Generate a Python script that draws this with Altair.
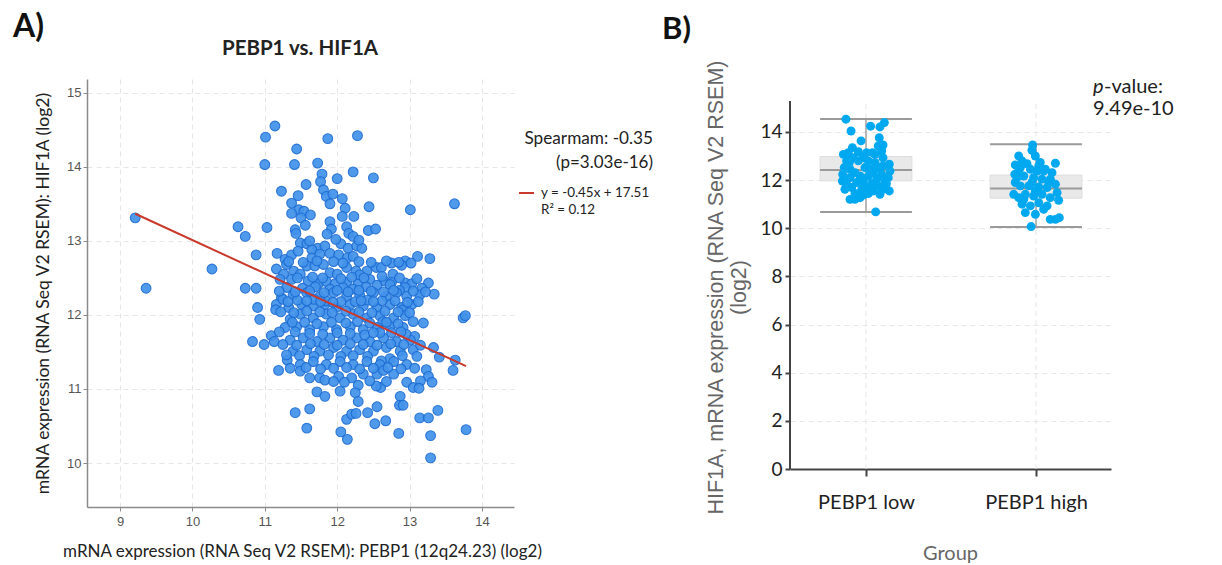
import altair as alt
import pandas as pd

# ---------------- Panel A: PEBP1 vs. HIF1A scatter ----------------
# (PEBP1 log2 RSEM, HIF1A log2 RSEM) per sample
samples_a = [
    (9.21, 13.31), (11.14, 14.55), (11.01, 14.40), (11.87, 14.38), (12.28, 14.42), (11.44, 14.24),
    (11.00, 14.03), (11.41, 14.03), (11.73, 14.05), (12.22, 13.93), (12.50, 13.85), (11.79, 13.90),
    (11.77, 13.80), (11.57, 13.76), (11.23, 13.67), (11.46, 13.61), (11.81, 13.69), (11.85, 13.60),
    (11.94, 13.63), (12.00, 13.84), (12.07, 13.57), (11.90, 13.50), (11.37, 13.51), (11.47, 13.42),
    (11.54, 13.40), (11.63, 13.35), (11.37, 13.37), (11.50, 13.31), (12.11, 13.44), (12.07, 13.33),
    (12.23, 13.33), (12.44, 13.46), (13.01, 13.42), (13.62, 13.50), (11.56, 13.21), (10.63, 13.19),
    (10.73, 13.06), (11.03, 13.18), (11.42, 13.15), (11.43, 13.10), (11.90, 13.26), (11.92, 13.16),
    (11.86, 13.09), (12.13, 13.19), (12.16, 13.10), (12.22, 13.06), (12.43, 13.14), (12.53, 13.16),
    (10.27, 12.62), (10.88, 12.81), (11.17, 12.83), (11.49, 12.97), (11.58, 12.96), (11.73, 12.90),
    (11.83, 12.93), (12.05, 12.96), (12.15, 12.90), (12.27, 12.93), (12.34, 12.90), (11.28, 12.75),
    (11.37, 12.81), (11.46, 12.86), (11.65, 12.88), (11.65, 12.77), (11.76, 12.82), (11.90, 12.83),
    (12.02, 12.81), (12.14, 12.77), (12.22, 12.79), (11.16, 12.62), (11.26, 12.55), (11.40, 12.59),
    (11.49, 12.55), (11.58, 12.66), (11.69, 12.66), (11.81, 12.68), (11.90, 12.57), (12.00, 12.55),
    (12.13, 12.64), (12.26, 12.59), (12.41, 12.59), (12.54, 12.64), (12.45, 12.48), (11.21, 12.48),
    (11.37, 12.48), (11.60, 12.46), (11.74, 12.42), (11.85, 12.45), (11.97, 12.42), (12.13, 12.44),
    (12.29, 12.42), (10.73, 12.36), (10.88, 12.36), (9.36, 12.36), (13.11, 12.79), (13.28, 12.76),
    (12.94, 12.73), (12.89, 12.67), (12.75, 12.70), (12.61, 12.64), (12.77, 12.55), (12.65, 12.46),
    (12.94, 12.43), (13.03, 12.42), (13.26, 12.43), (13.17, 12.36), (12.31, 12.54), (11.30, 12.68),
    (12.75, 12.44), (12.94, 12.37),
    (11.30, 12.37), (11.52, 12.36), (11.70, 12.38), (11.90, 12.35), (12.08, 12.37), (12.22, 12.35),
    (12.40, 12.38), (12.55, 12.40), (12.73, 12.41), (12.86, 12.33), (11.23, 12.23), (11.39, 12.27),
    (11.58, 12.30), (11.76, 12.25), (11.95, 12.30), (12.13, 12.25), (12.31, 12.27), (12.50, 12.30),
    (12.68, 12.25), (12.82, 12.30), (12.96, 12.25), (13.14, 12.27), (13.34, 12.28), (11.16, 12.14),
    (11.33, 12.10), (11.51, 12.14), (11.67, 12.12), (11.83, 12.14), (11.99, 12.10), (12.18, 12.14),
    (12.36, 12.12), (12.55, 12.10), (12.73, 12.14), (12.89, 12.10), (13.03, 12.14), (11.15, 12.07),
    (11.25, 12.21), (10.90, 12.10), (11.45, 12.20), (11.85, 12.19), (12.05, 12.18), (12.42, 12.20),
    (12.62, 12.19), (11.68, 12.21), (12.91, 12.07),
    (10.93, 11.94), (11.35, 11.94), (11.49, 12.01), (11.67, 11.96), (11.85, 12.01), (12.04, 11.96),
    (12.22, 12.01), (12.41, 11.96), (12.59, 11.99), (12.78, 11.96), (12.94, 11.99), (13.74, 11.96),
    (13.77, 11.99), (12.63, 11.91), (11.28, 11.83), (11.44, 11.84), (11.62, 11.80), (11.81, 11.84),
    (11.99, 11.80), (12.18, 11.84), (12.36, 11.80), (12.55, 11.83), (12.73, 11.84), (12.91, 11.83),
    (13.19, 11.89), (12.84, 11.88), (13.07, 11.71), (11.55, 11.90), (11.92, 11.90), (12.28, 11.91),
    (12.12, 11.89), (11.72, 11.88), (11.09, 11.72), (11.13, 11.64), (10.99, 11.60), (10.83, 11.64),
    (11.35, 11.66), (11.53, 11.69), (11.72, 11.64), (11.90, 11.69), (12.08, 11.66), (12.27, 11.69),
    (12.45, 11.64), (12.64, 11.69), (12.82, 11.64), (13.01, 11.66), (12.95, 11.74), (12.59, 11.76),
    (11.20, 11.77), (11.62, 11.75), (11.80, 11.74), (12.00, 11.76), (12.18, 11.75), (12.38, 11.73),
    (12.75, 11.76),
    (11.39, 11.51), (11.58, 11.53), (11.76, 11.51), (11.95, 11.56), (12.13, 11.51), (12.31, 11.53),
    (12.50, 11.51), (12.68, 11.56), (12.87, 11.51), (13.05, 11.53), (13.33, 11.56), (13.41, 11.43),
    (11.48, 11.45), (11.68, 11.44), (11.88, 11.46), (12.05, 11.44), (12.22, 11.45), (12.42, 11.44),
    (12.73, 11.41), (12.61, 11.38), (11.31, 11.39), (11.49, 11.33), (11.67, 11.37), (11.85, 11.33),
    (12.04, 11.37), (12.22, 11.33), (12.41, 11.37), (12.59, 11.33), (12.78, 11.37), (12.96, 11.33),
    (13.07, 11.28), (13.63, 11.39), (13.60, 11.25), (13.23, 11.26), (11.19, 11.25), (11.49, 11.24),
    (11.62, 11.15), (11.76, 11.15), (12.02, 11.17), (12.20, 11.15), (12.36, 11.20), (12.55, 11.20),
    (12.78, 11.20), (12.64, 11.25), (13.26, 11.17), (13.31, 11.09), (12.96, 11.09), (13.05, 11.02),
    (13.15, 11.11), (11.83, 11.12), (12.29, 11.05), (13.13, 11.01), (12.60, 11.02), (12.54, 11.04),
    (11.42, 10.68), (11.62, 10.73), (11.58, 10.47), (11.72, 10.96), (11.83, 10.90), (12.04, 10.97),
    (12.25, 10.95), (12.29, 10.83), (12.13, 10.59), (12.20, 10.66), (12.26, 10.67), (12.05, 10.42),
    (12.14, 10.32), (12.42, 10.68), (12.52, 10.53), (12.55, 10.76), (13.78, 10.45), (13.29, 10.07),
    (13.29, 10.37), (13.39, 10.71), (13.14, 10.61), (13.26, 10.61), (12.85, 10.40), (12.67, 10.57),
    (12.87, 10.90), (12.86, 10.78), (12.91, 10.78),
    # densely packed core of the cloud
    (11.33, 12.72), (11.53, 12.71), (11.72, 12.73), (11.95, 12.72), (12.08, 12.70), (12.30, 12.72),
    (12.47, 12.71), (12.68, 12.73), (12.85, 12.71), (13.02, 12.70),
    (11.45, 12.50), (11.66, 12.51), (11.80, 12.50), (12.05, 12.49), (12.20, 12.51), (12.37, 12.50),
    (12.62, 12.52), (12.86, 12.50), (13.10, 12.49),
    (11.20, 12.32), (11.42, 12.31), (11.62, 12.32), (11.82, 12.30), (12.00, 12.33), (12.15, 12.31),
    (12.30, 12.33), (12.47, 12.32), (12.64, 12.31), (12.78, 12.33), (13.05, 12.32), (13.22, 12.31),
    (11.32, 12.18), (11.58, 12.19), (11.77, 12.18), (11.94, 12.17), (12.25, 12.18), (12.33, 12.19),
    (12.50, 12.18), (12.80, 12.19), (12.97, 12.17), (13.12, 12.18),
    (11.22, 12.04), (11.40, 12.03), (11.58, 12.05), (11.76, 12.04), (11.93, 12.03), (12.12, 12.05),
    (12.30, 12.04), (12.48, 12.03), (12.66, 12.05), (12.84, 12.04), (13.00, 12.03),
    (11.38, 11.90), (12.45, 11.89), (12.68, 11.90), (13.05, 11.91),
    (11.42, 11.77), (12.50, 11.76), (12.88, 11.77),
    (11.25, 11.60), (11.44, 11.59), (11.63, 11.61), (11.82, 11.60), (12.00, 11.59), (12.18, 11.61),
    (12.36, 11.60), (12.55, 11.59), (12.74, 11.61), (12.92, 11.60), (13.15, 11.59),
    (11.30, 11.46), (12.90, 11.45), (13.10, 11.44),
    (11.35, 11.28), (11.57, 11.29), (11.77, 11.27), (11.95, 11.28), (12.13, 11.29), (12.31, 11.27),
    (12.50, 11.28), (12.70, 11.29), (12.88, 11.27),
    (11.95, 11.10), (12.10, 11.09), (12.45, 11.11), (12.68, 11.10),
    (11.62, 13.00), (11.98, 13.02), (12.30, 13.01),
]

# Linear fit reported in the legend
fit_slope = -0.45
fit_intercept = 17.51

title_a = "PEBP1 vs. HIF1A"
x_title_a = "mRNA expression (RNA Seq V2 RSEM): PEBP1 (12q24.23) (log2)"
y_title_a = "mRNA expression (RNA Seq V2 RSEM): HIF1A (log2)"
spearman_lines = ["Spearmam: -0.35", "(p=3.03e-16)"]
fit_lines = ["y = -0.45x + 17.51", "R\u00b2 = 0.12"]
x_ticks_a = [9, 10, 11, 12, 13, 14]
y_ticks_a = [10, 11, 12, 13, 14, 15]

# ---------------- Panel B: HIF1A by PEBP1 group ----------------
groups = ["PEBP1 low", "PEBP1 high"]
# (HIF1A log2, horizontal jitter within the group)
low_points = [
    (14.53, -0.118), (14.04, -0.088), (14.24, 0.027), (14.21, 0.082), (14.39, 0.108), (13.63, -0.029),
    (13.76, 0.078), (13.42, 0.072), (13.35, -0.080), (13.14, -0.104), (13.14, 0.039), (13.07, -0.133),
    (12.93, 0.100), (12.66, 0.137), (12.38, 0.141), (12.10, 0.131), (11.85, 0.120), (11.55, 0.137),
    (11.62, 0.100), (11.41, 0.082), (11.20, -0.094), (11.20, -0.065), (11.27, -0.035), (11.62, -0.124),
    (11.96, -0.139), (12.24, -0.137), (12.52, -0.128), (12.80, -0.114), (10.68, 0.057), (12.93, -0.075),
    (12.80, -0.045), (12.93, -0.016), (12.80, 0.014), (12.52, -0.006), (12.45, 0.024), (12.45, -0.094),
    (12.31, -0.065), (12.17, -0.035), (12.10, -0.094), (11.90, -0.055), (11.96, -0.016), (12.17, 0.014),
    (12.31, 0.043), (12.52, 0.072), (12.59, 0.100), (12.24, 0.092), (12.04, 0.063), (11.85, 0.033),
    (11.69, 0.004), (11.62, -0.025), (11.69, -0.084), (11.44, -0.065), (11.38, -0.016), (11.44, 0.014),
    (11.55, 0.043), (11.76, 0.072), (11.96, 0.112), (11.83, -0.114), (12.73, -0.098), (12.73, 0.053),
    (13.07, 0.053), (13.14, 0.004), (13.18, -0.045), (13.21, 0.092), (13.46, 0.100),
]
high_points = [
    (13.46, -0.020), (13.24, -0.024), (12.70, 0.114), (12.80, -0.082), (12.63, -0.122), (12.68, -0.053),
    (12.73, 0.025), (12.45, 0.055), (12.31, 0.094), (12.38, 0.006), (12.45, -0.033), (12.38, -0.102),
    (12.24, -0.125), (12.17, -0.072), (12.10, -0.014), (12.04, 0.035), (12.04, 0.084), (11.83, 0.114),
    (11.90, -0.122), (11.76, -0.092), (11.76, -0.043), (11.72, 0.016), (11.69, 0.065), (11.48, 0.124),
    (11.41, -0.131), (11.27, -0.102), (11.41, -0.063), (11.34, -0.014), (11.41, 0.035), (11.27, 0.084),
    (11.16, 0.133), (11.00, -0.082), (10.93, -0.033), (11.06, 0.016), (10.93, 0.065), (10.65, -0.063),
    (10.58, -0.004), (10.37, 0.084), (10.37, 0.114), (10.44, 0.137), (10.07, -0.029), (13.00, -0.102),
    (13.00, -0.004), (12.10, -0.112), (12.38, 0.045), (11.55, -0.004), (12.52, -0.092), (12.59, 0.016),
    (11.90, 0.075), (11.20, -0.072), (10.79, 0.045), (11.90, -0.024),
]
box_q1 = [11.97, 11.25]
box_median = [12.42, 11.65]
box_q3 = [12.98, 12.21]
whisker_low = [10.68, 10.05]
whisker_high = [14.54, 13.49]
y_ticks_b = [0, 2, 4, 6, 8, 10, 12, 14]
y_title_b = ["HIF1A, mRNA expression (RNA Seq V2 RSEM)", "(log2)"]
x_title_b = "Group"
p_value = "9.49e-10"

# ---------------- styling ----------------
SANS = "Lato"
ARIAL = "Liberation Sans"
NARROW = "Liberation Sans Narrow, Liberation Sans"
GRID = dict(grid=True, gridDash=[5, 4], gridColor="#e6e6e6", gridWidth=1)
BOX_HALF = 0.27


def text_mark(text, x, y, size, **kw):
    style = dict(font=SANS, fontSize=size, color="#222222", align="left", baseline="middle")
    style.update(kw)
    return alt.Chart(pd.DataFrame({"t": [text]})).mark_text(x=x, y=y, **style).encode(text="t:N")


# ---------------- build panel A ----------------
df_a = pd.DataFrame(samples_a, columns=["pebp1", "hif1a"])
fit_x = [df_a["pebp1"].min(), df_a["pebp1"].max()]
df_fit = pd.DataFrame({"pebp1": fit_x})
df_fit["hif1a"] = fit_slope * df_fit["pebp1"] + fit_intercept

axis_xa = alt.Axis(
    values=x_ticks_a, title=x_title_a, **GRID,
    domainColor="#8a8a8a", domainWidth=1.5, tickColor="#8a8a8a", tickSize=4,
    labelFont=NARROW, labelFontSize=13, labelColor="#555555", labelPadding=4,
    titleFont=SANS, titleFontSize=17, titleFontWeight="normal", titleColor="#222222",
    titleX=215, titleY=44, titleBaseline="middle",
)
axis_ya = alt.Axis(
    values=y_ticks_a, title=y_title_a, **GRID,
    domainColor="#8a8a8a", domainWidth=1.5, tickColor="#8a8a8a", tickSize=4,
    labelFont=NARROW, labelFontSize=13, labelColor="#555555", labelPadding=2,
    titleFont=SANS, titleFontSize=17.5, titleFontWeight="normal", titleColor="#222222",
    titleAngle=270, titleAlign="center", titleBaseline="middle", titleX=-44, titleY=214,
)
scale_xa = alt.Scale(domain=[8.544, 14.442], nice=False, zero=False)
scale_ya = alt.Scale(domain=[9.406, 15.185], nice=False, zero=False)

points_a = alt.Chart(df_a).mark_circle(
    size=95, color="#4393ea", stroke="#1c6cd3", strokeWidth=1.1, opacity=0.93
).encode(
    x=alt.X("pebp1:Q", scale=scale_xa, axis=axis_xa),
    y=alt.Y("hif1a:Q", scale=scale_ya, axis=axis_ya),
)
fit_line = alt.Chart(df_fit).mark_line(color="#c9392c", strokeWidth=2).encode(
    x=alt.X("pebp1:Q", scale=scale_xa, axis=axis_xa),
    y=alt.Y("hif1a:Q", scale=scale_ya, axis=axis_ya),
)
legend_dash = alt.Chart(pd.DataFrame({"k": [0]})).mark_rule(color="#c9392c", strokeWidth=2).encode(
    x=alt.value(432), x2=alt.value(447), y=alt.value(114)
)

panel_a = alt.layer(
    points_a,
    fit_line,
    legend_dash,
    text_mark("A)", -74, -67, 32, fontWeight="bold", baseline="top", color="#111111"),
    text_mark(title_a, 213, -30, 20.5, fontWeight="bold", align="center"),
    text_mark(spearman_lines[0], 566, 60, 17.2, align="right"),
    text_mark(spearman_lines[1], 566, 84, 17, align="right"),
    text_mark(fit_lines[0], 454, 114, 13.4),
    text_mark(fit_lines[1], 454, 131, 13.4),
).properties(width=427, height=428)

# ---------------- build panel B ----------------
rows = []
for gi, pts in enumerate([low_points, high_points]):
    for value, jitter in pts:
        rows.append({"group": groups[gi], "pos": gi + jitter, "hif1a": value})
df_b = pd.DataFrame(rows)

df_box = pd.DataFrame({
    "group": groups, "pos": [0, 1], "q1": box_q1, "median": box_median, "q3": box_q3,
    "lo": whisker_low, "hi": whisker_high,
})
df_box["left"] = df_box["pos"] - BOX_HALF
df_box["right"] = df_box["pos"] + BOX_HALF

label_expr = f"datum.value == 0 ? '{groups[0]}' : '{groups[1]}'"
axis_xb = alt.Axis(
    values=[0, 1], labelExpr=label_expr, title=x_title_b, grid=False,
    domainColor="#444444", domainWidth=2, tickColor="#444444", tickWidth=2, tickSize=7,
    labelFont=SANS, labelFontSize=20, labelColor="#222222", labelPadding=16,
    titleFont=SANS, titleFontSize=20, titleFontWeight="normal", titleColor="#666666",
    titleX=160, titleY=84, titleBaseline="middle",
)
axis_yb = alt.Axis(
    values=y_ticks_b, title=y_title_b, **GRID, domain=False,
    tickColor="#444444", tickWidth=2, tickSize=5,
    labelFont=SANS, labelFontSize=19, labelColor="#222222", labelPadding=3,
    titleFont=ARIAL, titleFontSize=21.5, titleFontWeight="normal", titleColor="#666666",
    titleAngle=270, titleAlign="center", titleBaseline="middle", titleLineHeight=23,
    titleX=-74, titleY=208,
)
scale_xb = alt.Scale(domain=[-0.447, 1.441], nice=False, zero=False)
scale_yb = alt.Scale(domain=[0, 16.2], nice=False, zero=False)


def xb(field):
    return alt.X(field, scale=scale_xb, axis=axis_xb)


def yb(field):
    return alt.Y(field, scale=scale_yb, axis=axis_yb)


one_row = pd.DataFrame({"k": [0]})
y_axis_line = alt.Chart(one_row).mark_rule(color="#444444", strokeWidth=2).encode(
    x=alt.value(0), y=alt.value(22), y2=alt.value(390)
)
v_grid = alt.Chart(df_box).mark_rule(color="#e6e6e6", strokeDash=[5, 4], strokeWidth=1).encode(
    x=xb("pos:Q"), y=alt.value(25), y2=alt.value(390)
)
boxes = alt.Chart(df_box).mark_rect(color="#e9e9e9", stroke="#dddddd", strokeWidth=1).encode(
    x=xb("left:Q"), x2="right:Q", y=yb("q1:Q"), y2="q3:Q"
)
whiskers = alt.Chart(df_box).mark_rule(color="#a3a3a3", strokeWidth=1.5).encode(
    x=xb("pos:Q"), y=yb("lo:Q"), y2="hi:Q"
)
caps_hi = alt.Chart(df_box).mark_rule(color="#9a9a9a", strokeWidth=2).encode(
    x=xb("left:Q"), x2="right:Q", y=yb("hi:Q")
)
caps_lo = alt.Chart(df_box).mark_rule(color="#9a9a9a", strokeWidth=2).encode(
    x=xb("left:Q"), x2="right:Q", y=yb("lo:Q")
)
medians = alt.Chart(df_box).mark_rule(color="#9a9a9a", strokeWidth=2).encode(
    x=xb("left:Q"), x2="right:Q", y=yb("median:Q")
)
points_b = alt.Chart(df_b).mark_circle(size=80, color="#00a8f0", opacity=1).encode(
    x=xb("pos:Q"), y=yb("hif1a:Q")
)

panel_b = alt.layer(
    v_grid, boxes, whiskers, caps_hi, caps_lo, medians, points_b, y_axis_line,
    text_mark("B)", -128, -64, 31, fontWeight="bold", baseline="top", color="#111111"),
    text_mark("p", 303, 8, 20, fontStyle="italic"),
    text_mark("-value:", 314, 8, 20),
    text_mark(p_value, 303, 30, 20),
).properties(width=321, height=390)

chart = alt.hconcat(panel_a, panel_b, spacing=276, bounds="flush").properties(
    padding={"left": 13, "top": 11, "right": 5, "bottom": 5},
    background="white",
).configure_view(stroke=None)

chart.save("out.html", embed_options={"renderer": "svg", "actions": False})
